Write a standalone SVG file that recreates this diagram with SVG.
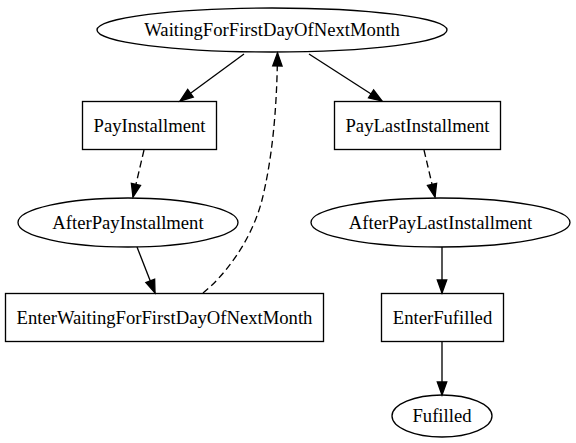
<svg xmlns="http://www.w3.org/2000/svg" width="576" height="443" viewBox="0 0 576 443">
<style>
.n{fill:none;stroke:#000;stroke-width:1.33}
.t{font-family:"Liberation Serif","Times New Roman",Times,serif;font-size:18.67px;text-anchor:middle;fill:#000}
.e{fill:none;stroke:#000;stroke-width:1.33}
.d{stroke-dasharray:7,4}
</style>
<defs>
<marker id="ah" markerUnits="userSpaceOnUse" markerWidth="14" markerHeight="12" refX="13" refY="4.7" orient="auto" overflow="visible">
<path d="M0,0 L13,4.7 L0,9.4 z" fill="#000" stroke="#000" stroke-width="1.33"/>
</marker>
</defs>
<rect width="576" height="443" fill="#fff"/>
<g id="edges">
<path class="e" d="M244,54 L180,101" marker-end="url(#ah)"/>
<path class="e" d="M309,54 L382,101" marker-end="url(#ah)"/>
<path class="e d" d="M144,150 L133,197" marker-end="url(#ah)"/>
<path class="e d" d="M424,150 L435,197" marker-end="url(#ah)"/>
<path class="e" d="M137,247 L155,293" marker-end="url(#ah)"/>
<path class="e" d="M442,247 L442,293" marker-end="url(#ah)"/>
<path class="e" d="M442,341 L442,395" marker-end="url(#ah)"/>
<path class="e d" d="M203,293 C222,278 251,243 262,200 C272,160 277,110 277.5,53" marker-end="url(#ah)"/>
</g>
<g id="WaitingForFirstDayOfNextMonth">
<ellipse class="n" cx="272" cy="30" rx="175" ry="22"/>
<text class="t" x="272" y="36">WaitingForFirstDayOfNextMonth</text>
</g>
<g id="PayInstallment">
<rect class="n" x="82.5" y="101.5" width="134" height="48"/>
<text class="t" x="149.5" y="131.5">PayInstallment</text>
</g>
<g id="PayLastInstallment">
<rect class="n" x="334.5" y="101.5" width="166" height="48"/>
<text class="t" x="417.5" y="131.5">PayLastInstallment</text>
</g>
<g id="AfterPayInstallment">
<ellipse class="n" cx="128" cy="222.5" rx="110" ry="24.5"/>
<text class="t" x="128" y="228.5">AfterPayInstallment</text>
</g>
<g id="AfterPayLastInstallment">
<ellipse class="n" cx="440.5" cy="222.5" rx="129.5" ry="24.5"/>
<text class="t" x="440.5" y="228.5">AfterPayLastInstallment</text>
</g>
<g id="EnterWaitingForFirstDayOfNextMonth">
<rect class="n" x="5.5" y="293.5" width="318" height="48"/>
<text class="t" x="164.5" y="323.5">EnterWaitingForFirstDayOfNextMonth</text>
</g>
<g id="EnterFufilled">
<rect class="n" x="381.5" y="293.5" width="122" height="48"/>
<text class="t" x="442.5" y="323.5">EnterFufilled</text>
</g>
<g id="Fufilled">
<ellipse class="n" cx="442" cy="416" rx="50" ry="21"/>
<text class="t" x="442" y="422">Fufilled</text>
</g>
</svg>
